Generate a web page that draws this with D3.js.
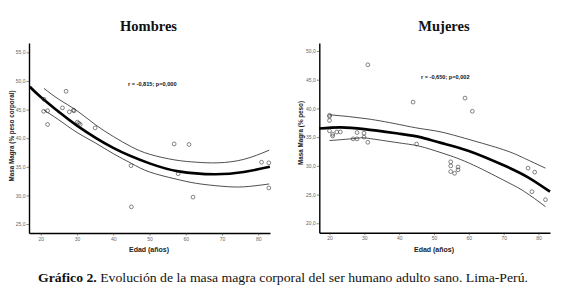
<!DOCTYPE html>
<html><head><meta charset="utf-8">
<script src="https://cdn.jsdelivr.net/npm/d3@7"></script>
<style>body{margin:0;background:#fff}svg{display:block}</style>
</head><body>
<svg id="c" width="565" height="287"></svg>
<script>
// ---- Data ----
const menAge = [20.9,20.8,21.9,21.9,27.0,26.0,27.9,29.0,29.2,30.1,30.9,30.5,35.0,44.9,45.0,56.8,60.9,57.9,62.0,80.9,82.9,82.9];
const menMM  = [46.8,44.7,44.8,42.4,48.2,45.3,44.6,44.9,44.8,42.8,42.4,42.6,41.8,35.2,28.0,39.0,38.9,33.8,29.7,35.8,35.7,31.3];
const menFit   = [[17,49.0],[20,47.2],[25,44.6],[30,42.2],[40,38.3],[50,35.6],[58,34.2],[68,33.7],[76,34.1],[83.2,35.0]];
const menUpper = [[20.9,48.7],[25,46.8],[30,44.8],[35,42.4],[40,40.3],[45,38.5],[50,37.2],[57,36.2],[63,35.8],[69,35.7],[76,36.3],[83,37.9]];
const menLower = [[20.9,44.9],[25,43.2],[30,41.0],[35,39.2],[40,37.3],[45,35.6],[50,34.1],[57,32.9],[63,32.1],[70,31.6],[76,31.5],[83,32.0]];

const womenAge = [31.0,44.0,20.0,20.0,20.0,20.0,20.9,20.9,22.1,23.1,26.8,27.9,27.9,29.9,29.9,31.0,45.0,58.9,61.0,54.8,54.8,54.8,55.9,56.9,56.9,77.0,78.9,78.1,82.0];
const womenMM  = [47.6,41.1,38.8,38.6,37.9,36.1,35.5,35.2,35.9,35.9,34.7,34.7,35.8,35.7,35.0,34.1,33.8,41.8,39.5,30.7,30.0,29.0,28.7,29.8,29.3,29.6,28.9,25.5,24.1];
const womenFit   = [[17,36.5],[23,36.7],[30,36.4],[40,35.6],[46,35.0],[52,34.0],[60,32.6],[70,30.1],[77,28.0],[83.3,25.5]];
const womenUpper = [[20,38.9],[30.7,38.2],[40,37.2],[46,36.5],[52,35.9],[60,34.6],[70,32.8],[76,31.3],[82,29.6]];
const womenLower = [[20,34.4],[27.8,34.8],[31,34.8],[40,34.0],[46,33.4],[52,32.3],[60,30.5],[70,27.5],[76,25.5],[82,22.9]];

const xTicks = [20,30,40,50,60,70,80];
const menYTicks = [25,30,35,40,45,50,55];
const womenYTicks = [20,25,30,35,40,45,50];

const svg = d3.select("#c");
svg.append("rect").attr("width",565).attr("height",287).attr("fill","#fff");
const fmt = v => d3.format(".1f")(v).replace(".", ",");

function panel(cfg){
  const x = d3.scaleLinear().domain(cfg.xd).range(cfg.xr);
  const y = d3.scaleLinear().domain(cfg.yd).range(cfg.yr);
  const g = svg.append("g");
  const ax = g.append("g").attr("transform",`translate(0,${cfg.yr[0]})`)
    .call(d3.axisBottom(x).tickValues(xTicks).tickSize(2.5).tickSizeOuter(0).tickPadding(1.5));
  const ay = g.append("g").attr("transform",`translate(${cfg.xr[0]},0)`)
    .call(d3.axisLeft(y).tickValues(cfg.yt).tickSize(2.5).tickSizeOuter(0).tickPadding(1).tickFormat(fmt));
  [ax,ay].forEach(a=>{
    a.select(".domain").attr("stroke","#000").attr("stroke-width",1.4);
    a.selectAll(".tick line").attr("stroke","#333").attr("stroke-width",0.6);
    a.selectAll(".tick text").attr("fill","#666").attr("font-size",5).attr("font-family","Liberation Sans, Arial, sans-serif");
  });
  const line = d3.line().x(d=>x(d[0])).y(d=>y(d[1])).curve(d3.curveNatural);
  g.append("path").attr("d",line(cfg.up)).attr("fill","none").attr("stroke","#222").attr("stroke-width",0.8);
  g.append("path").attr("d",line(cfg.lo)).attr("fill","none").attr("stroke","#222").attr("stroke-width",0.8);
  g.append("path").attr("d",line(cfg.fit)).attr("fill","none").attr("stroke","#000").attr("stroke-width",2.6);
  g.selectAll("circle.p").data(cfg.ages).join("circle")
    .attr("cx",(d)=>x(d)).attr("cy",(d,i)=>y(cfg.vals[i])).attr("r",1.9)
    .attr("fill","none").attr("stroke","#333").attr("stroke-width",0.6);
  g.append("text").attr("x",cfg.title[0]).attr("y",31).attr("text-anchor","middle")
    .attr("font-family","Liberation Serif, Times New Roman, serif").attr("font-weight","bold")
    .attr("font-size",14.5).attr("fill","#111").text(cfg.title[1]);
  g.append("text").attr("x",cfg.r[0]).attr("y",cfg.r[1])
    .attr("font-family","Liberation Sans, Arial, sans-serif").attr("font-weight","bold")
    .attr("font-size",5.6).attr("fill","#111").text(cfg.r[2]);
  g.append("text").attr("x",cfg.xl).attr("y",252).attr("text-anchor","middle")
    .attr("font-family","Liberation Sans, Arial, sans-serif").attr("font-weight","bold")
    .attr("font-size",7).attr("fill","#222").text("Edad (años)");
  g.append("text").attr("transform",`translate(${cfg.yl[0]},${cfg.yl[1]}) rotate(-90)`).attr("text-anchor","middle")
    .attr("font-family","Liberation Sans, Arial, sans-serif").attr("font-weight","bold")
    .attr("font-size",6.3).attr("fill","#222").text(cfg.yl[2]);
}

panel({xd:[16.77,83.23], xr:[29,270], yd:[23.43,56.64], yr:[233,43], yt:menYTicks,
  ages:menAge, vals:menMM, fit:menFit, up:menUpper, lo:menLower, xl:149,
  title:[148.5,"Hombres"], r:[128,86,"r = -0,815; p=0,000"], yl:[14,136,"Masa Magra (% peso corporal)"]});
panel({xd:[17.07,83.3], xr:[319.3,550], yd:[18.36,51.39], yr:[232.7,43], yt:womenYTicks,
  ages:womenAge, vals:womenMM, fit:womenFit, up:womenUpper, lo:womenLower, xl:434,
  title:[444,"Mujeres"], r:[421,79,"r = -0,650; p=0,002"], yl:[302.5,133,"Masa Magra (% peso)"]});

const cap = svg.append("text").attr("x",38).attr("y",282)
  .attr("font-family","Liberation Serif, Times New Roman, serif").attr("font-size",12.5).attr("fill","#111")
  .attr("textLength",490).attr("lengthAdjust","spacingAndGlyphs");
cap.append("tspan").attr("font-weight","bold").text("Gráfico 2.");
cap.append("tspan").text(" Evolución de la masa magra corporal del ser humano adulto sano. Lima-Perú.");
</script>
</body></html>
